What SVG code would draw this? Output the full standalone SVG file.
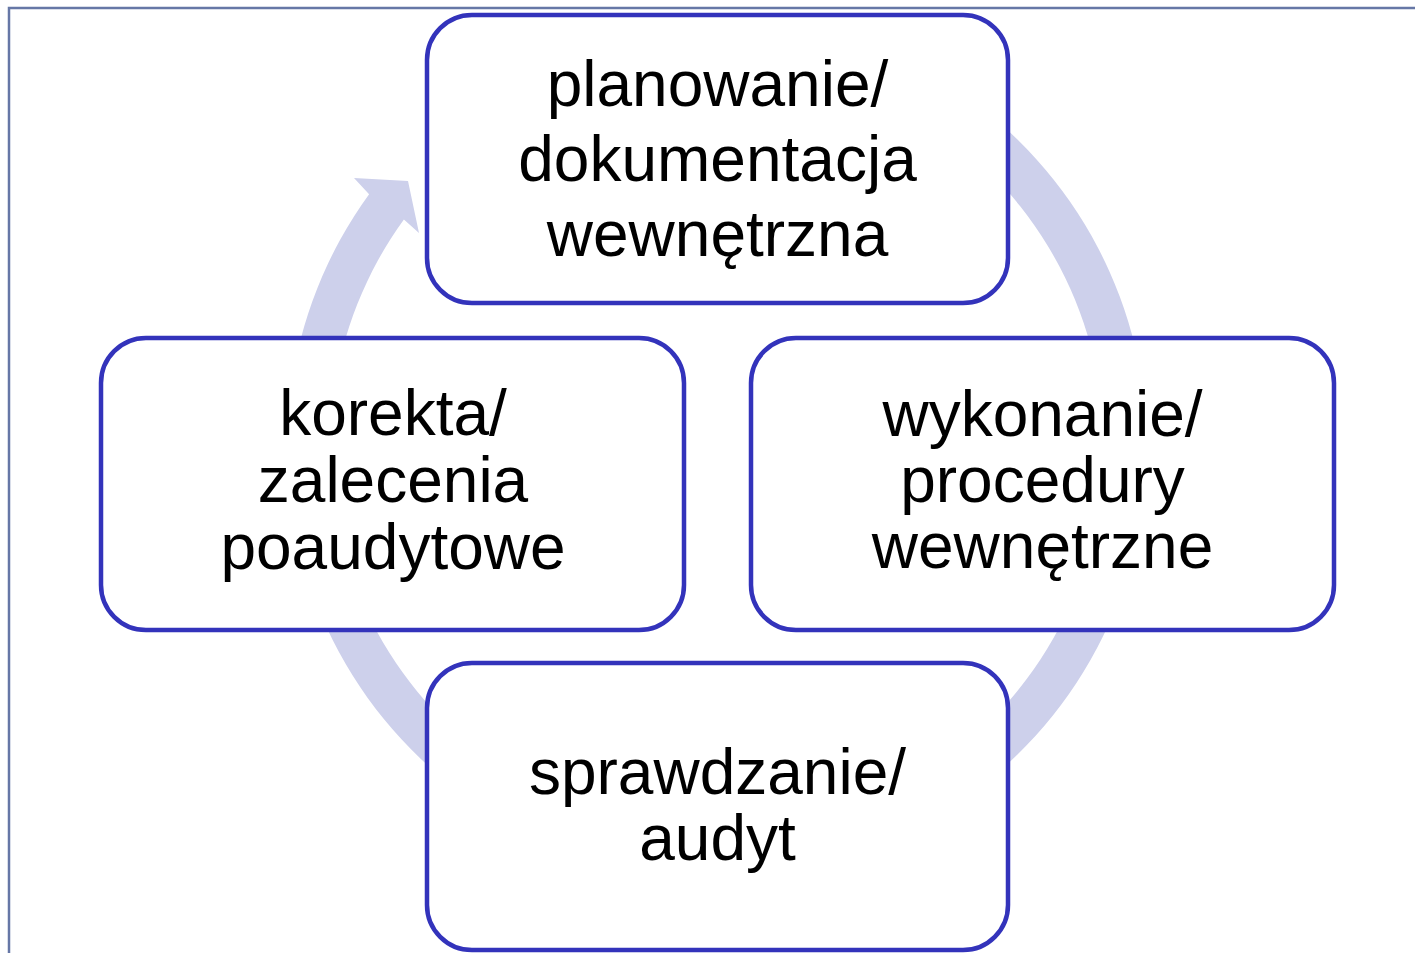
<svg xmlns="http://www.w3.org/2000/svg" width="1415" height="953" viewBox="0 0 1415 953">
<style>
.node rect{fill:#ffffff;stroke:#3333BB;stroke-width:4.5}
.node text{font-family:"Liberation Sans",Arial,sans-serif;font-size:64px;fill:#000000;text-anchor:middle}
.ring{fill:#CDD0EB;stroke:none}
.frame{fill:none;stroke:#6677A6;stroke-width:2.5}
</style>
<rect class="frame" x="9" y="8" width="1420" height="960"/>
<g id="connectors">
<path class="ring" d="M452.3,108.1 A430,430 0 1 1 369.1,194.2 L354,178 L408,181 L419,233 L403.9,219.5 A387,387 0 1 0 478.7,142.0 Z"/>
</g>
<g id="node-planowanie" class="node">
<rect x="427" y="15" width="581" height="288" rx="45" ry="45"/>
<text x="717.5" y="106">planowanie/</text>
<text x="717.5" y="181">dokumentacja</text>
<text x="717.5" y="256">wewnętrzna</text>
</g>
<g id="node-wykonanie" class="node">
<rect x="751" y="338" width="583" height="292" rx="45" ry="45"/>
<text x="1042.5" y="436">wykonanie/</text>
<text x="1042.5" y="502">procedury</text>
<text x="1042.5" y="568">wewnętrzne</text>
</g>
<g id="node-sprawdzanie" class="node">
<rect x="427" y="663" width="581" height="287" rx="45" ry="45"/>
<text x="717.5" y="794">sprawdzanie/</text>
<text x="717.5" y="860">audyt</text>
</g>
<g id="node-korekta" class="node">
<rect x="101" y="338" width="583" height="292" rx="45" ry="45"/>
<text x="393" y="435">korekta/</text>
<text x="393" y="502">zalecenia</text>
<text x="393" y="569">poaudytowe</text>
</g>
</svg>
